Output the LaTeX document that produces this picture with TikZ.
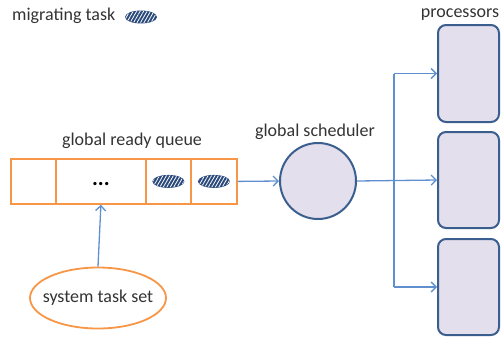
\documentclass[tikz,border=0pt]{standalone}
\usepackage{fontspec}
\setmainfont{Carlito}
\usetikzlibrary{shapes.geometric,patterns.meta,arrows.meta}
\definecolor{qorange}{HTML}{F79646}
\definecolor{pblue}{HTML}{3A5F8F}
\definecolor{pfill}{HTML}{E4DFEC}
\definecolor{lblue}{HTML}{5F8FCF}
\definecolor{tgray}{HTML}{333333}
\definecolor{tdark}{HTML}{2A4A7C}
\begin{document}
\begin{tikzpicture}[x=1pt,y=-1pt,
  font=\fontsize{18}{22}\selectfont, text=tgray,
  lbl/.style={inner sep=0pt},
  cell/.style={draw=qorange, line width=1.8pt, minimum height=45pt, inner sep=0pt, anchor=north west},
  task/.style={ellipse, draw=tdark, line width=0.9pt, fill=tdark, minimum width=31pt,
    minimum height=12pt, inner sep=0pt,
    postaction={pattern={Lines[angle=60,distance=3pt,line width=0.8pt]}, pattern color=white}},
  proc/.style={draw=pblue, line width=2pt, fill=pfill, rounded corners=8pt,
    minimum width=61pt, minimum height=96pt, inner sep=0pt},
  conn/.style={draw=lblue, line width=1.3pt},
  arr/.style={conn, -{Straight Barb[length=5pt,width=10pt]}}]
\useasboundingbox (0,0) rectangle (502,338);

% legend
\node[lbl, anchor=west] (legend) at (12,16) {migrating task};
\node[task] (legtask) at (141,17) {};

% global ready queue
\node[lbl] (qlabel) at (132,141) {global ready queue};
\node[cell, minimum width=45pt] (q1) at (10,158) {};
\node[cell, minimum width=90pt] (q2) at (55,158) {};
\node[cell, minimum width=45pt] (q3) at (145,158) {};
\node[cell, minimum width=46pt] (q4) at (190,158) {};
\node[lbl, font=\fontsize{22}{22}\selectfont\bfseries, text=black] (dots) at ([yshift=-3pt]q2.center) {...};
\node[task] (t3) at (q3.center) {};
\node[task] (t4) at (q4.center) {};

% system task set
\node[ellipse, draw=qorange, line width=1.8pt, minimum width=136pt, minimum height=61pt,
  inner sep=0pt] (sys) at (98,298) {};
\node[lbl] (systext) at (sys.center) {system task set};
\draw[arr] (sys.north) -- (q2.south);

% global scheduler
\node[lbl] (slabel) at (315,132) {global scheduler};
\node[circle, draw=pblue, line width=2pt, fill=pfill, minimum size=76pt, inner sep=0pt] (sch) at (318,181) {};
\draw[arr] (q4.east) -- (sch.west);

% processors
\node[lbl] (plabel) at (460,15) {processors};
\node[proc, minimum height=97pt] (p1) at (468.5,73.5) {};
\node[proc] (p2) at (468.5,180) {};
\node[proc] (p3) at (468.5,287) {};

% dispatch to the processors
\coordinate (bx) at (394,180);
\draw[arr] (sch.east) -- (p2.west);
\draw[conn] (bx |- p1.west) -- (bx |- p3.west);
\draw[arr] (bx |- p1.west) -- (p1.west);
\draw[arr] (bx |- p3.west) -- (p3.west);
\end{tikzpicture}
\end{document}
